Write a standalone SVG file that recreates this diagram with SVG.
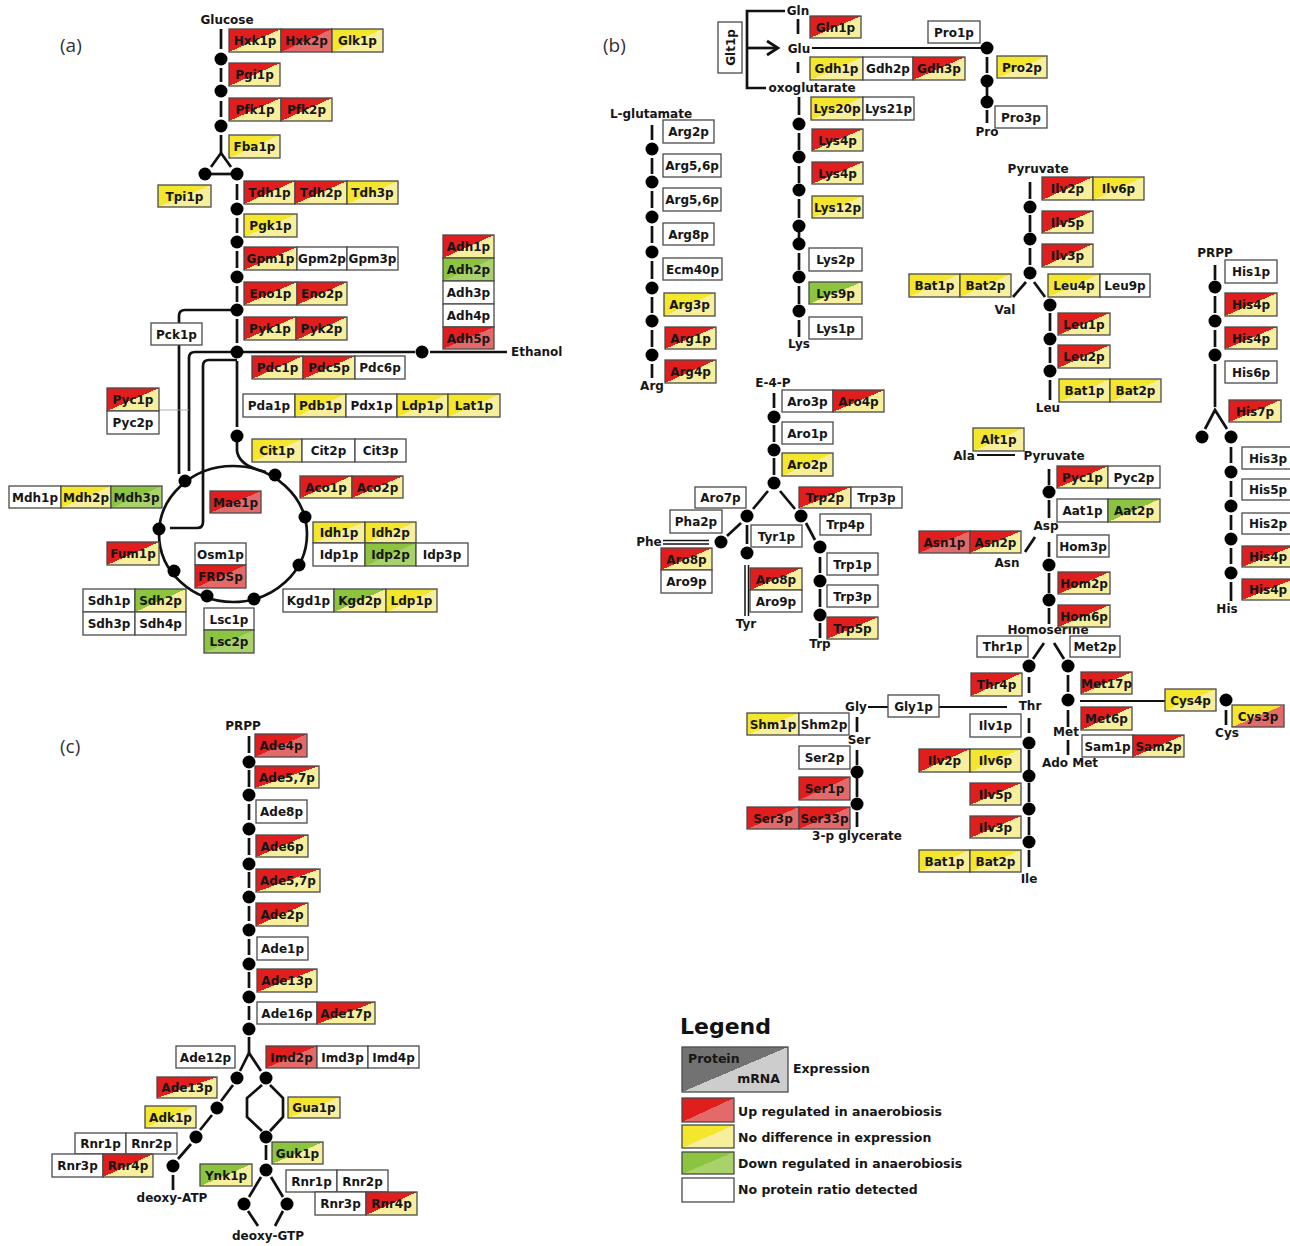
<svg xmlns="http://www.w3.org/2000/svg" width="1290" height="1246" viewBox="0 0 1290 1246">
<style>
.n rect{stroke:#4a4a4a;stroke-width:1.3}
.n text,.t{font-family:"DejaVu Sans",Verdana,sans-serif;font-weight:bold;font-size:12px;fill:#161616;text-anchor:middle}
.c line,.c path,.c polyline,.c ellipse{stroke:#111;stroke-width:2.7;fill:none}
.d circle{fill:#000}
.pl{font-family:"Open Sans","DejaVu Sans",sans-serif;font-size:19px;fill:#333}
.lg{font-family:"DejaVu Sans",Verdana,sans-serif;font-weight:bold;font-size:12.5px;fill:#161616}
</style>
<defs>
<linearGradient id="Ry" x1="0" y1="0" x2="1" y2="1"><stop offset="0.5" stop-color="#e01e1e"/><stop offset="0.5" stop-color="#f7ef9c"/></linearGradient>
<linearGradient id="Rr" x1="0" y1="0" x2="1" y2="1"><stop offset="0.5" stop-color="#e01e1e"/><stop offset="0.5" stop-color="#e46a6a"/></linearGradient>
<linearGradient id="Yy" x1="0" y1="0" x2="1" y2="1"><stop offset="0.5" stop-color="#f3e62c"/><stop offset="0.5" stop-color="#f7ef9c"/></linearGradient>
<linearGradient id="Yr" x1="0" y1="0" x2="1" y2="1"><stop offset="0.5" stop-color="#f3e62c"/><stop offset="0.5" stop-color="#e46a6a"/></linearGradient>
<linearGradient id="Gg" x1="0" y1="0" x2="1" y2="1"><stop offset="0.5" stop-color="#8cc43f"/><stop offset="0.5" stop-color="#a9d36a"/></linearGradient>
<linearGradient id="Gy" x1="0" y1="0" x2="1" y2="1"><stop offset="0.5" stop-color="#8cc43f"/><stop offset="0.5" stop-color="#f7ef9c"/></linearGradient>
<linearGradient id="Gr" x1="0" y1="0" x2="1" y2="1"><stop offset="0.5" stop-color="#727272"/><stop offset="0.5" stop-color="#cdcdcd"/></linearGradient>
</defs>
<rect width="1290" height="1246" fill="#fff"/>
<text class="pl" x="60" y="52">(a)</text>
<text class="pl" x="603" y="52">(b)</text>
<text class="pl" x="60" y="753">(c)</text>

<g id="connectors" class="c">
<!-- (a) glycolysis -->
<line x1="221" y1="29" x2="221" y2="49"/><line x1="221" y1="68" x2="221" y2="82"/><line x1="221" y1="101" x2="221" y2="117"/><line x1="221" y1="135" x2="221" y2="153"/>
<polyline points="211,167 221,153 231,167"/><line x1="211" y1="174" x2="231" y2="174"/>
<line x1="237" y1="184" x2="237" y2="200"/><line x1="237" y1="218" x2="237" y2="233"/><line x1="237" y1="251" x2="237" y2="268"/><line x1="237" y1="286" x2="237" y2="302"/><line x1="237" y1="319" x2="237" y2="343"/><line x1="237" y1="361" x2="237" y2="427"/>
<line x1="237" y1="352" x2="415" y2="352"/><line x1="430" y1="352" x2="507" y2="352"/>
<path d="M237,310 H185 Q179,310 179,316 V474"/>
<path d="M237,352 H195 Q189,352 189,358 V471"/>
<path d="M237,360 H209 Q203,360 203,366 V522 Q203,528 197,528 H170"/>
<line x1="159" y1="410" x2="189" y2="410" style="stroke:#999;stroke-width:0.8"/>
<path d="M237,436 V451 Q239,466 266,472"/>
<ellipse cx="233" cy="534" rx="74" ry="68"/>
<!-- (b) -->
<polyline points="785,11 747,11 747,88 766,88"/><line x1="747" y1="48" x2="777" y2="48"/><polyline points="767,41 778,48 767,55"/>
<line x1="798" y1="19" x2="798" y2="34"/><line x1="812" y1="48" x2="981" y2="48" style="stroke-width:2"/><line x1="798" y1="62" x2="798" y2="73"/>
<line x1="987" y1="57" x2="987" y2="73"/><line x1="987" y1="81" x2="987" y2="102"/><line x1="987" y1="110" x2="987" y2="123"/>
<line x1="799" y1="97" x2="799" y2="115"/><line x1="799" y1="133" x2="799" y2="150"/><line x1="799" y1="166" x2="799" y2="183"/><line x1="799" y1="199" x2="799" y2="218"/><line x1="799" y1="226" x2="799" y2="244"/><line x1="799" y1="253" x2="799" y2="270"/><line x1="799" y1="286" x2="799" y2="304"/><line x1="799" y1="320" x2="799" y2="337"/>
<line x1="652" y1="125" x2="652" y2="140"/><line x1="652" y1="158" x2="652" y2="174"/><line x1="652" y1="191" x2="652" y2="208"/><line x1="652" y1="226" x2="652" y2="243"/><line x1="652" y1="261" x2="652" y2="279"/><line x1="652" y1="297" x2="652" y2="313"/><line x1="652" y1="330" x2="652" y2="347"/><line x1="652" y1="364" x2="652" y2="378"/>
<line x1="1030" y1="182" x2="1030" y2="199"/><line x1="1030" y1="215" x2="1030" y2="232"/><line x1="1030" y1="248" x2="1030" y2="265"/><line x1="1026" y1="282" x2="1013" y2="297"/><line x1="1034" y1="282" x2="1045" y2="297"/>
<line x1="1050" y1="313" x2="1050" y2="331"/><line x1="1050" y1="347" x2="1050" y2="363"/><line x1="1050" y1="380" x2="1050" y2="400"/>
<line x1="1215" y1="265" x2="1215" y2="280"/><line x1="1215" y1="296" x2="1215" y2="313"/><line x1="1215" y1="330" x2="1215" y2="347"/><line x1="1215" y1="364" x2="1215" y2="407"/><polyline points="1205,429 1215,410 1227,429"/>
<line x1="1231" y1="447" x2="1231" y2="463"/><line x1="1231" y1="481" x2="1231" y2="497"/><line x1="1231" y1="515" x2="1231" y2="530"/><line x1="1231" y1="548" x2="1231" y2="564"/><line x1="1231" y1="582" x2="1231" y2="601"/>
<line x1="774" y1="393" x2="774" y2="408"/><line x1="774" y1="425" x2="774" y2="442"/><line x1="774" y1="458" x2="774" y2="475"/><line x1="768" y1="491" x2="753" y2="509"/><line x1="780" y1="491" x2="795" y2="509"/>
<line x1="741" y1="523" x2="727" y2="536"/><line x1="663" y1="540.5" x2="709" y2="540.5" style="stroke-width:1.5"/><line x1="663" y1="544" x2="709" y2="544" style="stroke-width:1.5"/>
<line x1="747" y1="525" x2="747" y2="544"/><line x1="745" y1="565" x2="745" y2="616" style="stroke-width:1.5"/><line x1="748.5" y1="565" x2="748.5" y2="616" style="stroke-width:1.5"/>
<line x1="806" y1="523" x2="815" y2="540"/><line x1="820" y1="557" x2="820" y2="573"/><line x1="820" y1="589" x2="820" y2="607"/><line x1="820" y1="623" x2="820" y2="638"/>
<line x1="977" y1="455" x2="1015" y2="455" style="stroke-width:2"/>
<line x1="1049" y1="469" x2="1049" y2="485"/><line x1="1049" y1="500" x2="1049" y2="518"/><line x1="1049" y1="542" x2="1049" y2="557"/><line x1="1049" y1="573" x2="1049" y2="593"/><line x1="1049" y1="608" x2="1049" y2="624"/>
<line x1="1035" y1="537" x2="1025" y2="552"/>
<line x1="1044" y1="643" x2="1033" y2="659"/><line x1="1054" y1="643" x2="1064" y2="659"/>
<line x1="1029" y1="677" x2="1029" y2="693"/><line x1="1029" y1="718" x2="1029" y2="733"/><line x1="1029" y1="750" x2="1029" y2="770"/><line x1="1029" y1="783" x2="1029" y2="802"/><line x1="1029" y1="817" x2="1029" y2="835"/><line x1="1029" y1="850" x2="1029" y2="867"/>
<line x1="868" y1="707" x2="888" y2="707" style="stroke-width:2"/><line x1="939" y1="707" x2="1007" y2="707" style="stroke-width:2"/>
<line x1="857" y1="717" x2="857" y2="732"/><line x1="857" y1="750" x2="857" y2="765"/><line x1="857" y1="778" x2="857" y2="797"/><line x1="857" y1="812" x2="857" y2="827"/>
<line x1="1068" y1="675" x2="1068" y2="692"/><line x1="1080" y1="701" x2="1165" y2="701" style="stroke-width:2"/><line x1="1068" y1="710" x2="1068" y2="727"/><line x1="1068" y1="740" x2="1068" y2="755"/>
<line x1="1226" y1="710" x2="1226" y2="725"/>
<!-- (c) -->
<line x1="249" y1="736" x2="249" y2="753"/><line x1="249" y1="770" x2="249" y2="787"/><line x1="249" y1="804" x2="249" y2="820"/><line x1="249" y1="838" x2="249" y2="855"/><line x1="249" y1="872" x2="249" y2="888"/><line x1="249" y1="906" x2="249" y2="921"/><line x1="249" y1="939" x2="249" y2="955"/><line x1="249" y1="972" x2="249" y2="988"/><line x1="249" y1="1006" x2="249" y2="1020"/>
<line x1="249" y1="1037" x2="249" y2="1053"/><polyline points="240,1071 249,1053 261,1071"/>
<line x1="233" y1="1085" x2="221" y2="1101"/><line x1="212" y1="1115" x2="200" y2="1130"/><line x1="191" y1="1144" x2="178" y2="1159"/><line x1="173" y1="1175" x2="173" y2="1190"/>
<polyline points="262,1085 247,1098 247,1117 262,1131"/><polyline points="270,1085 283,1098 283,1117 270,1131"/>
<line x1="266" y1="1145" x2="266" y2="1160"/><line x1="261" y1="1177" x2="249" y2="1197"/><line x1="271" y1="1177" x2="283" y2="1197"/>
<line x1="248" y1="1211" x2="258" y2="1226"/><line x1="283" y1="1211" x2="275" y2="1226"/>
</g>

<g id="dots" class="d">
<circle cx="221" cy="59" r="6.5"/><circle cx="221" cy="91" r="6.5"/><circle cx="221" cy="126" r="6.5"/><circle cx="205" cy="174" r="6.5"/><circle cx="237" cy="174" r="6.5"/>
<circle cx="237" cy="209" r="6.5"/><circle cx="237" cy="242" r="6.5"/><circle cx="237" cy="277" r="6.5"/><circle cx="237" cy="310" r="6.5"/><circle cx="237" cy="352" r="6.5"/><circle cx="237" cy="436" r="6.5"/><circle cx="422" cy="352" r="6.5"/>
<circle cx="185" cy="481" r="6.5"/><circle cx="275" cy="475" r="6.5"/><circle cx="305" cy="517" r="6.5"/><circle cx="159" cy="529" r="6.5"/><circle cx="299" cy="565" r="6.5"/><circle cx="174" cy="571" r="6.5"/><circle cx="207" cy="596" r="6.5"/><circle cx="254" cy="599" r="6.5"/>
<circle cx="987" cy="48" r="6.5"/><circle cx="987" cy="81" r="6.5"/><circle cx="987" cy="102" r="6.5"/>
<circle cx="799" cy="124" r="6.5"/><circle cx="799" cy="157" r="6.5"/><circle cx="799" cy="190" r="6.5"/><circle cx="799" cy="226" r="6.5"/><circle cx="799" cy="244" r="6.5"/><circle cx="799" cy="277" r="6.5"/><circle cx="799" cy="311" r="6.5"/>
<circle cx="652" cy="149" r="6.5"/><circle cx="652" cy="182" r="6.5"/><circle cx="652" cy="217" r="6.5"/><circle cx="652" cy="252" r="6.5"/><circle cx="652" cy="288" r="6.5"/><circle cx="652" cy="321" r="6.5"/><circle cx="652" cy="355" r="6.5"/>
<circle cx="1030" cy="207" r="6.5"/><circle cx="1030" cy="239" r="6.5"/><circle cx="1030" cy="273" r="6.5"/><circle cx="1050" cy="305" r="6.5"/><circle cx="1050" cy="339" r="6.5"/><circle cx="1050" cy="371" r="6.5"/>
<circle cx="1215" cy="287" r="6.5"/><circle cx="1215" cy="321" r="6.5"/><circle cx="1215" cy="355" r="6.5"/><circle cx="1202" cy="437" r="6.5"/><circle cx="1231" cy="437" r="6.5"/><circle cx="1231" cy="472" r="6.5"/><circle cx="1231" cy="506" r="6.5"/><circle cx="1231" cy="539" r="6.5"/><circle cx="1231" cy="573" r="6.5"/>
<circle cx="774" cy="417" r="6.5"/><circle cx="774" cy="450" r="6.5"/><circle cx="774" cy="483" r="6.5"/><circle cx="747" cy="516" r="6.5"/><circle cx="801" cy="516" r="6.5"/><circle cx="721" cy="542" r="6.5"/><circle cx="747" cy="553" r="6.5"/><circle cx="820" cy="547" r="6.5"/><circle cx="820" cy="581" r="6.5"/><circle cx="820" cy="615" r="6.5"/>
<circle cx="1049" cy="492" r="6.5"/><circle cx="1049" cy="565" r="6.5"/><circle cx="1049" cy="600" r="6.5"/>
<circle cx="1029" cy="666" r="6.5"/><circle cx="1068" cy="666" r="6.5"/><circle cx="1068" cy="700" r="6.5"/><circle cx="1226" cy="700" r="6.5"/>
<circle cx="1029" cy="743" r="6.5"/><circle cx="1029" cy="776" r="6.5"/><circle cx="1029" cy="809" r="6.5"/><circle cx="1029" cy="842" r="6.5"/>
<circle cx="857" cy="772" r="6.5"/><circle cx="857" cy="804" r="6.5"/>
<circle cx="249" cy="762" r="6.5"/><circle cx="249" cy="795" r="6.5"/><circle cx="249" cy="829" r="6.5"/><circle cx="249" cy="864" r="6.5"/><circle cx="249" cy="897" r="6.5"/><circle cx="249" cy="930" r="6.5"/><circle cx="249" cy="964" r="6.5"/><circle cx="249" cy="997" r="6.5"/><circle cx="249" cy="1029" r="6.5"/>
<circle cx="237" cy="1078" r="6.5"/><circle cx="217" cy="1108" r="6.5"/><circle cx="196" cy="1137" r="6.5"/><circle cx="173" cy="1166" r="6.5"/>
<circle cx="266" cy="1078" r="6.5"/><circle cx="266" cy="1137" r="6.5"/><circle cx="266" cy="1170" r="6.5"/><circle cx="244" cy="1204" r="6.5"/><circle cx="287" cy="1204" r="6.5"/>
</g>

<g id="metabolites">
<text class="t" x="227" y="24">Glucose</text>
<text class="t" x="511" y="356" style="text-anchor:start">Ethanol</text>
<text class="t" x="798" y="15">Gln</text>
<text class="t" x="799" y="53">Glu</text>
<text class="t" x="812" y="92">oxoglutarate</text>
<text class="t" x="987" y="136">Pro</text>
<text class="t" x="651" y="118">L-glutamate</text>
<text class="t" x="652" y="390">Arg</text>
<text class="t" x="799" y="348">Lys</text>
<text class="t" x="1038" y="173">Pyruvate</text>
<text class="t" x="1005" y="314">Val</text>
<text class="t" x="1048" y="412">Leu</text>
<text class="t" x="1215" y="257">PRPP</text>
<text class="t" x="1227" y="613">His</text>
<text class="t" x="773" y="387">E-4-P</text>
<text class="t" x="649" y="546">Phe</text>
<text class="t" x="746" y="628">Tyr</text>
<text class="t" x="820" y="648">Trp</text>
<text class="t" x="964" y="460">Ala</text>
<text class="t" x="1054" y="460">Pyruvate</text>
<text class="t" x="1046" y="530">Asp</text>
<text class="t" x="1007" y="567">Asn</text>
<text class="t" x="1048" y="634">Homoserine</text>
<text class="t" x="1030" y="710">Thr</text>
<text class="t" x="1029" y="883">Ile</text>
<text class="t" x="856" y="711">Gly</text>
<text class="t" x="859" y="744">Ser</text>
<text class="t" x="857" y="840">3-p glycerate</text>
<text class="t" x="1066" y="736">Met</text>
<text class="t" x="1070" y="767">Ado Met</text>
<text class="t" x="1227" y="737">Cys</text>
<text class="t" x="243" y="730">PRPP</text>
<text class="t" x="172" y="1202">deoxy-ATP</text>
<text class="t" x="268" y="1240">deoxy-GTP</text>
</g>

<g id="nodes-a">
<g id="a_Hxk1p" class="n"><rect x="229" y="29" width="52" height="23" fill="url(#Ry)"/><text x="255" y="45">Hxk1p</text></g>
<g id="a_Hxk2p" class="n"><rect x="281" y="29" width="51" height="23" fill="url(#Rr)"/><text x="306.5" y="45">Hxk2p</text></g>
<g id="a_Glk1p" class="n"><rect x="332" y="29" width="51" height="23" fill="url(#Yy)"/><text x="357.5" y="45">Glk1p</text></g>
<g id="a_Pgi1p" class="n"><rect x="229" y="63" width="51" height="23" fill="url(#Ry)"/><text x="254.5" y="79">Pgi1p</text></g>
<g id="a_Pfk1p" class="n"><rect x="229" y="98" width="52" height="23" fill="url(#Ry)"/><text x="255" y="114">Pfk1p</text></g>
<g id="a_Pfk2p" class="n"><rect x="281" y="98" width="51" height="23" fill="url(#Ry)"/><text x="306.5" y="114">Pfk2p</text></g>
<g id="a_Fba1p" class="n"><rect x="229" y="135" width="51" height="23" fill="url(#Yy)"/><text x="254.5" y="151">Fba1p</text></g>
<g id="a_Tpi1p" class="n"><rect x="158" y="185" width="53" height="22" fill="url(#Yy)"/><text x="184.5" y="200.5">Tpi1p</text></g>
<g id="a_Tdh1p" class="n"><rect x="244" y="181" width="51" height="23" fill="url(#Ry)"/><text x="269.5" y="197">Tdh1p</text></g>
<g id="a_Tdh2p" class="n"><rect x="295" y="181" width="52" height="23" fill="url(#Ry)"/><text x="321" y="197">Tdh2p</text></g>
<g id="a_Tdh3p" class="n"><rect x="347" y="181" width="51" height="23" fill="url(#Yy)"/><text x="372.5" y="197">Tdh3p</text></g>
<g id="a_Pgk1p" class="n"><rect x="244" y="214" width="53" height="23" fill="url(#Yy)"/><text x="270.5" y="230">Pgk1p</text></g>
<g id="a_Gpm1p" class="n"><rect x="244" y="247" width="53" height="23" fill="url(#Ry)"/><text x="270.5" y="263">Gpm1p</text></g>
<g id="a_Gpm2p" class="n"><rect x="297" y="247" width="50" height="23" fill="#fff"/><text x="322" y="263">Gpm2p</text></g>
<g id="a_Gpm3p" class="n"><rect x="347" y="247" width="51" height="23" fill="#fff"/><text x="372.5" y="263">Gpm3p</text></g>
<g id="a_Eno1p" class="n"><rect x="244" y="282" width="53" height="23" fill="url(#Ry)"/><text x="270.5" y="298">Eno1p</text></g>
<g id="a_Eno2p" class="n"><rect x="297" y="282" width="50" height="23" fill="url(#Ry)"/><text x="322" y="298">Eno2p</text></g>
<g id="a_Pyk1p" class="n"><rect x="244" y="317" width="52" height="23" fill="url(#Ry)"/><text x="270" y="333">Pyk1p</text></g>
<g id="a_Pyk2p" class="n"><rect x="296" y="317" width="51" height="23" fill="url(#Ry)"/><text x="321.5" y="333">Pyk2p</text></g>
<g id="a_Adh1p" class="n"><rect x="443" y="235" width="51" height="23" fill="url(#Ry)"/><text x="468.5" y="251">Adh1p</text></g>
<g id="a_Adh2p" class="n"><rect x="443" y="258" width="51" height="23" fill="url(#Gg)"/><text x="468.5" y="274">Adh2p</text></g>
<g id="a_Adh3p" class="n"><rect x="443" y="281" width="51" height="23" fill="#fff"/><text x="468.5" y="297">Adh3p</text></g>
<g id="a_Adh4p" class="n"><rect x="443" y="304" width="51" height="23" fill="#fff"/><text x="468.5" y="320">Adh4p</text></g>
<g id="a_Adh5p" class="n"><rect x="443" y="327" width="51" height="22" fill="url(#Rr)"/><text x="468.5" y="342.5">Adh5p</text></g>
<g id="a_Pck1p" class="n"><rect x="151" y="323" width="51" height="22" fill="#fff"/><text x="176.5" y="338.5">Pck1p</text></g>
<g id="a_Pdc1p" class="n"><rect x="252" y="356" width="51" height="23" fill="url(#Ry)"/><text x="277.5" y="372">Pdc1p</text></g>
<g id="a_Pdc5p" class="n"><rect x="303" y="356" width="52" height="23" fill="url(#Ry)"/><text x="329" y="372">Pdc5p</text></g>
<g id="a_Pdc6p" class="n"><rect x="355" y="356" width="50" height="23" fill="#fff"/><text x="380" y="372">Pdc6p</text></g>
<g id="a_Pda1p" class="n"><rect x="243" y="394" width="52" height="23" fill="#fff"/><text x="269" y="410">Pda1p</text></g>
<g id="a_Pdb1p" class="n"><rect x="295" y="394" width="51" height="23" fill="url(#Yy)"/><text x="320.5" y="410">Pdb1p</text></g>
<g id="a_Pdx1p" class="n"><rect x="346" y="394" width="51" height="23" fill="#fff"/><text x="371.5" y="410">Pdx1p</text></g>
<g id="a_Ldp1p" class="n"><rect x="397" y="394" width="51" height="23" fill="url(#Yy)"/><text x="422.5" y="410">Ldp1p</text></g>
<g id="a_Lat1p" class="n"><rect x="448" y="394" width="52" height="23" fill="url(#Yy)"/><text x="474" y="410">Lat1p</text></g>
<g id="a_Pyc1p" class="n"><rect x="107" y="388" width="52" height="23" fill="url(#Ry)"/><text x="133" y="404">Pyc1p</text></g>
<g id="a_Pyc2p" class="n"><rect x="107" y="411" width="52" height="23" fill="#fff"/><text x="133" y="427">Pyc2p</text></g>
<g id="a_Cit1p" class="n"><rect x="252" y="439" width="50" height="23" fill="url(#Yy)"/><text x="277" y="455">Cit1p</text></g>
<g id="a_Cit2p" class="n"><rect x="302" y="439" width="53" height="23" fill="#fff"/><text x="328.5" y="455">Cit2p</text></g>
<g id="a_Cit3p" class="n"><rect x="355" y="439" width="51" height="23" fill="#fff"/><text x="380.5" y="455">Cit3p</text></g>
<g id="a_Mdh1p" class="n"><rect x="9" y="486" width="52" height="22" fill="#fff"/><text x="35" y="501.5">Mdh1p</text></g>
<g id="a_Mdh2p" class="n"><rect x="61" y="486" width="50" height="22" fill="url(#Yy)"/><text x="86" y="501.5">Mdh2p</text></g>
<g id="a_Mdh3p" class="n"><rect x="111" y="486" width="51" height="22" fill="url(#Gg)"/><text x="136.5" y="501.5">Mdh3p</text></g>
<g id="a_Mae1p" class="n"><rect x="210" y="491" width="51" height="22" fill="url(#Rr)"/><text x="235.5" y="506.5">Mae1p</text></g>
<g id="a_Aco1p" class="n"><rect x="300" y="476" width="52" height="22" fill="url(#Ry)"/><text x="326" y="491.5">Aco1p</text></g>
<g id="a_Aco2p" class="n"><rect x="352" y="476" width="51" height="22" fill="url(#Ry)"/><text x="377.5" y="491.5">Aco2p</text></g>
<g id="a_Idh1p" class="n"><rect x="313" y="522" width="52" height="21" fill="url(#Yy)"/><text x="339" y="536.5">Idh1p</text></g>
<g id="a_Idh2p" class="n"><rect x="365" y="522" width="51" height="21" fill="url(#Yy)"/><text x="390.5" y="536.5">Idh2p</text></g>
<g id="a_Idp1p" class="n"><rect x="313" y="543" width="52" height="23" fill="#fff"/><text x="339" y="559">Idp1p</text></g>
<g id="a_Idp2p" class="n"><rect x="365" y="543" width="51" height="23" fill="url(#Gg)"/><text x="390.5" y="559">Idp2p</text></g>
<g id="a_Idp3p" class="n"><rect x="416" y="543" width="52" height="23" fill="#fff"/><text x="442" y="559">Idp3p</text></g>
<g id="a_Fum1p" class="n"><rect x="107" y="542" width="52" height="23" fill="url(#Ry)"/><text x="133" y="558">Fum1p</text></g>
<g id="a_Osm1p" class="n"><rect x="195" y="543" width="51" height="22" fill="#fff"/><text x="220.5" y="558.5">Osm1p</text></g>
<g id="a_FRDSp" class="n"><rect x="195" y="565" width="51" height="23" fill="url(#Rr)"/><text x="220.5" y="581">FRDSp</text></g>
<g id="a_Sdh1p" class="n"><rect x="83" y="589" width="52" height="23" fill="#fff"/><text x="109" y="605">Sdh1p</text></g>
<g id="a_Sdh2p" class="n"><rect x="135" y="589" width="51" height="23" fill="url(#Gy)"/><text x="160.5" y="605">Sdh2p</text></g>
<g id="a_Sdh3p" class="n"><rect x="83" y="612" width="52" height="23" fill="#fff"/><text x="109" y="628">Sdh3p</text></g>
<g id="a_Sdh4p" class="n"><rect x="135" y="612" width="51" height="23" fill="#fff"/><text x="160.5" y="628">Sdh4p</text></g>
<g id="a_Lsc1p" class="n"><rect x="204" y="608" width="50" height="22" fill="#fff"/><text x="229" y="623.5">Lsc1p</text></g>
<g id="a_Lsc2p" class="n"><rect x="204" y="630" width="50" height="23" fill="url(#Gg)"/><text x="229" y="646">Lsc2p</text></g>
<g id="a_Kgd1p" class="n"><rect x="283" y="589" width="51" height="23" fill="#fff"/><text x="308.5" y="605">Kgd1p</text></g>
<g id="a_Kgd2p" class="n"><rect x="334" y="589" width="52" height="23" fill="url(#Gy)"/><text x="360" y="605">Kgd2p</text></g>
<g id="a_Ldp1p_2" class="n"><rect x="386" y="589" width="51" height="23" fill="url(#Yy)"/><text x="411.5" y="605">Ldp1p</text></g>
</g>

<g id="nodes-b">
<g id="b_Glt1p" class="n"><rect x="718" y="22" width="24" height="51" fill="#fff"/><text transform="translate(730,47.5) rotate(-90)" x="0" y="4.5">Glt1p</text></g>
<g id="b_Gln1p" class="n"><rect x="810" y="16" width="51" height="22" fill="url(#Ry)"/><text x="835.5" y="31.5">Gln1p</text></g>
<g id="b_Gdh1p" class="n"><rect x="810" y="57" width="53" height="23" fill="url(#Yy)"/><text x="836.5" y="73">Gdh1p</text></g>
<g id="b_Gdh2p" class="n"><rect x="863" y="57" width="50" height="23" fill="#fff"/><text x="888" y="73">Gdh2p</text></g>
<g id="b_Gdh3p" class="n"><rect x="913" y="57" width="52" height="23" fill="url(#Ry)"/><text x="939" y="73">Gdh3p</text></g>
<g id="b_Pro1p" class="n"><rect x="928" y="21" width="52" height="22" fill="#fff"/><text x="954" y="36.5">Pro1p</text></g>
<g id="b_Pro2p" class="n"><rect x="997" y="56" width="50" height="22" fill="url(#Yy)"/><text x="1022" y="71.5">Pro2p</text></g>
<g id="b_Pro3p" class="n"><rect x="995" y="106" width="52" height="22" fill="#fff"/><text x="1021" y="121.5">Pro3p</text></g>
<g id="b_Lys20p" class="n"><rect x="811" y="97" width="52" height="23" fill="url(#Yy)"/><text x="837" y="113">Lys20p</text></g>
<g id="b_Lys21p" class="n"><rect x="863" y="97" width="51" height="23" fill="#fff"/><text x="888.5" y="113">Lys21p</text></g>
<g id="b_Lys4p_1" class="n"><rect x="812" y="129" width="51" height="22" fill="url(#Ry)"/><text x="837.5" y="144.5">Lys4p</text></g>
<g id="b_Lys4p_2" class="n"><rect x="812" y="162" width="51" height="22" fill="url(#Ry)"/><text x="837.5" y="177.5">Lys4p</text></g>
<g id="b_Lys12p" class="n"><rect x="812" y="196" width="51" height="22" fill="url(#Yy)"/><text x="837.5" y="211.5">Lys12p</text></g>
<g id="b_Lys2p" class="n"><rect x="809" y="248" width="53" height="23" fill="#fff"/><text x="835.5" y="264">Lys2p</text></g>
<g id="b_Lys9p" class="n"><rect x="809" y="282" width="53" height="22" fill="url(#Gy)"/><text x="835.5" y="297.5">Lys9p</text></g>
<g id="b_Lys1p" class="n"><rect x="809" y="317" width="53" height="22" fill="#fff"/><text x="835.5" y="332.5">Lys1p</text></g>
<g id="b_Arg2p" class="n"><rect x="663" y="120" width="51" height="23" fill="#fff"/><text x="688.5" y="136">Arg2p</text></g>
<g id="b_Arg56p_1" class="n"><rect x="663" y="154" width="58" height="23" fill="#fff"/><text x="692" y="170">Arg5,6p</text></g>
<g id="b_Arg56p_2" class="n"><rect x="663" y="188" width="58" height="23" fill="#fff"/><text x="692" y="204">Arg5,6p</text></g>
<g id="b_Arg8p" class="n"><rect x="663" y="223" width="51" height="22" fill="#fff"/><text x="688.5" y="238.5">Arg8p</text></g>
<g id="b_Ecm40p" class="n"><rect x="663" y="258" width="59" height="22" fill="#fff"/><text x="692.5" y="273.5">Ecm40p</text></g>
<g id="b_Arg3p" class="n"><rect x="664" y="293" width="51" height="23" fill="url(#Yy)"/><text x="689.5" y="309">Arg3p</text></g>
<g id="b_Arg1p" class="n"><rect x="665" y="327" width="51" height="22" fill="url(#Ry)"/><text x="690.5" y="342.5">Arg1p</text></g>
<g id="b_Arg4p" class="n"><rect x="665" y="360" width="51" height="23" fill="url(#Ry)"/><text x="690.5" y="376">Arg4p</text></g>
<g id="b_Ilv2p_1" class="n"><rect x="1042" y="177" width="51" height="23" fill="url(#Ry)"/><text x="1067.5" y="193">Ilv2p</text></g>
<g id="b_Ilv6p_1" class="n"><rect x="1093" y="177" width="51" height="23" fill="url(#Yy)"/><text x="1118.5" y="193">Ilv6p</text></g>
<g id="b_Ilv5p_1" class="n"><rect x="1042" y="211" width="51" height="22" fill="url(#Ry)"/><text x="1067.5" y="226.5">Ilv5p</text></g>
<g id="b_Ilv3p_1" class="n"><rect x="1042" y="244" width="51" height="23" fill="url(#Ry)"/><text x="1067.5" y="260">Ilv3p</text></g>
<g id="b_Bat1p_v" class="n"><rect x="909" y="274" width="51" height="23" fill="url(#Yy)"/><text x="934.5" y="290">Bat1p</text></g>
<g id="b_Bat2p_v" class="n"><rect x="960" y="274" width="51" height="23" fill="url(#Yy)"/><text x="985.5" y="290">Bat2p</text></g>
<g id="b_Leu4p" class="n"><rect x="1048" y="274" width="52" height="23" fill="url(#Yy)"/><text x="1074" y="290">Leu4p</text></g>
<g id="b_Leu9p" class="n"><rect x="1100" y="274" width="50" height="23" fill="#fff"/><text x="1125" y="290">Leu9p</text></g>
<g id="b_Leu1p" class="n"><rect x="1058" y="313" width="52" height="22" fill="url(#Ry)"/><text x="1084" y="328.5">Leu1p</text></g>
<g id="b_Leu2p" class="n"><rect x="1058" y="345" width="52" height="23" fill="url(#Ry)"/><text x="1084" y="361">Leu2p</text></g>
<g id="b_Bat1p_l" class="n"><rect x="1059" y="379" width="51" height="23" fill="url(#Yy)"/><text x="1084.5" y="395">Bat1p</text></g>
<g id="b_Bat2p_l" class="n"><rect x="1110" y="379" width="51" height="23" fill="url(#Yy)"/><text x="1135.5" y="395">Bat2p</text></g>
<g id="b_His1p" class="n"><rect x="1225" y="260" width="52" height="23" fill="#fff"/><text x="1251" y="276">His1p</text></g>
<g id="b_His4p_1" class="n"><rect x="1225" y="293" width="52" height="23" fill="url(#Ry)"/><text x="1251" y="309">His4p</text></g>
<g id="b_His4p_2" class="n"><rect x="1225" y="327" width="52" height="22" fill="url(#Ry)"/><text x="1251" y="342.5">His4p</text></g>
<g id="b_His6p" class="n"><rect x="1225" y="361" width="52" height="22" fill="#fff"/><text x="1251" y="376.5">His6p</text></g>
<g id="b_His7p" class="n"><rect x="1229" y="400" width="52" height="22" fill="url(#Ry)"/><text x="1255" y="415.5">His7p</text></g>
<g id="b_His3p" class="n"><rect x="1242" y="447" width="52" height="22" fill="#fff"/><text x="1268" y="462.5">His3p</text></g>
<g id="b_His5p" class="n"><rect x="1242" y="479" width="52" height="21" fill="#fff"/><text x="1268" y="494">His5p</text></g>
<g id="b_His2p" class="n"><rect x="1242" y="513" width="52" height="21" fill="#fff"/><text x="1268" y="528">His2p</text></g>
<g id="b_His4p_3" class="n"><rect x="1242" y="546" width="52" height="21" fill="url(#Ry)"/><text x="1268" y="561">His4p</text></g>
<g id="b_His4p_4" class="n"><rect x="1242" y="579" width="52" height="21" fill="url(#Ry)"/><text x="1268" y="594">His4p</text></g>
<g id="b_Aro3p" class="n"><rect x="782" y="390" width="51" height="22" fill="#fff"/><text x="807.5" y="405.5">Aro3p</text></g>
<g id="b_Aro4p" class="n"><rect x="833" y="390" width="51" height="22" fill="url(#Ry)"/><text x="858.5" y="405.5">Aro4p</text></g>
<g id="b_Aro1p" class="n"><rect x="782" y="422" width="51" height="22" fill="#fff"/><text x="807.5" y="437.5">Aro1p</text></g>
<g id="b_Aro2p" class="n"><rect x="782" y="453" width="51" height="23" fill="url(#Yy)"/><text x="807.5" y="469">Aro2p</text></g>
<g id="b_Aro7p" class="n"><rect x="695" y="487" width="51" height="21" fill="#fff"/><text x="720.5" y="502">Aro7p</text></g>
<g id="b_Trp2p" class="n"><rect x="799" y="487" width="52" height="21" fill="url(#Ry)"/><text x="825" y="502">Trp2p</text></g>
<g id="b_Trp3p_1" class="n"><rect x="851" y="487" width="51" height="21" fill="#fff"/><text x="876.5" y="502">Trp3p</text></g>
<g id="b_Pha2p" class="n"><rect x="670" y="510" width="52" height="23" fill="#fff"/><text x="696" y="526">Pha2p</text></g>
<g id="b_Trp4p" class="n"><rect x="820" y="514" width="51" height="21" fill="#fff"/><text x="845.5" y="529">Trp4p</text></g>
<g id="b_Tyr1p" class="n"><rect x="751" y="525" width="51" height="22" fill="#fff"/><text x="776.5" y="540.5">Tyr1p</text></g>
<g id="b_Aro8p_1" class="n"><rect x="661" y="548" width="51" height="22" fill="url(#Ry)"/><text x="686.5" y="563.5">Aro8p</text></g>
<g id="b_Aro9p_1" class="n"><rect x="661" y="570" width="51" height="23" fill="#fff"/><text x="686.5" y="586">Aro9p</text></g>
<g id="b_Aro8p_2" class="n"><rect x="750" y="568" width="52" height="22" fill="url(#Ry)"/><text x="776" y="583.5">Aro8p</text></g>
<g id="b_Aro9p_2" class="n"><rect x="750" y="590" width="52" height="22" fill="#fff"/><text x="776" y="605.5">Aro9p</text></g>
<g id="b_Trp1p" class="n"><rect x="827" y="553" width="51" height="22" fill="#fff"/><text x="852.5" y="568.5">Trp1p</text></g>
<g id="b_Trp3p_2" class="n"><rect x="827" y="585" width="51" height="22" fill="#fff"/><text x="852.5" y="600.5">Trp3p</text></g>
<g id="b_Trp5p" class="n"><rect x="827" y="617" width="51" height="22" fill="url(#Ry)"/><text x="852.5" y="632.5">Trp5p</text></g>
<g id="b_Alt1p" class="n"><rect x="973" y="428" width="51" height="23" fill="url(#Yy)"/><text x="998.5" y="444">Alt1p</text></g>
<g id="b_Pyc1p" class="n"><rect x="1057" y="466" width="51" height="22" fill="url(#Ry)"/><text x="1082.5" y="481.5">Pyc1p</text></g>
<g id="b_Pyc2p" class="n"><rect x="1108" y="466" width="52" height="22" fill="#fff"/><text x="1134" y="481.5">Pyc2p</text></g>
<g id="b_Aat1p" class="n"><rect x="1057" y="499" width="51" height="23" fill="#fff"/><text x="1082.5" y="515">Aat1p</text></g>
<g id="b_Aat2p" class="n"><rect x="1108" y="499" width="52" height="23" fill="url(#Gy)"/><text x="1134" y="515">Aat2p</text></g>
<g id="b_Asn1p" class="n"><rect x="919" y="531" width="51" height="22" fill="url(#Rr)"/><text x="944.5" y="546.5">Asn1p</text></g>
<g id="b_Asn2p" class="n"><rect x="970" y="531" width="51" height="22" fill="url(#Ry)"/><text x="995.5" y="546.5">Asn2p</text></g>
<g id="b_Hom3p" class="n"><rect x="1057" y="535" width="52" height="22" fill="#fff"/><text x="1083" y="550.5">Hom3p</text></g>
<g id="b_Hom2p" class="n"><rect x="1058" y="572" width="52" height="22" fill="url(#Ry)"/><text x="1084" y="587.5">Hom2p</text></g>
<g id="b_Hom6p" class="n"><rect x="1058" y="605" width="52" height="22" fill="url(#Ry)"/><text x="1084" y="620.5">Hom6p</text></g>
<g id="b_Thr1p" class="n"><rect x="977" y="636" width="51" height="21" fill="#fff"/><text x="1002.5" y="651">Thr1p</text></g>
<g id="b_Met2p" class="n"><rect x="1070" y="636" width="50" height="21" fill="#fff"/><text x="1095" y="651">Met2p</text></g>
<g id="b_Thr4p" class="n"><rect x="971" y="673" width="51" height="23" fill="url(#Ry)"/><text x="996.5" y="689">Thr4p</text></g>
<g id="b_Met17p" class="n"><rect x="1081" y="672" width="51" height="22" fill="url(#Ry)"/><text x="1106.5" y="687.5">Met17p</text></g>
<g id="b_Cys4p" class="n"><rect x="1165" y="689" width="51" height="22" fill="url(#Yy)"/><text x="1190.5" y="704.5">Cys4p</text></g>
<g id="b_Cys3p" class="n"><rect x="1232" y="705" width="52" height="22" fill="url(#Yr)"/><text x="1258" y="720.5">Cys3p</text></g>
<g id="b_Met6p" class="n"><rect x="1081" y="707" width="51" height="23" fill="url(#Ry)"/><text x="1106.5" y="723">Met6p</text></g>
<g id="b_Sam1p" class="n"><rect x="1082" y="735" width="51" height="22" fill="#fff"/><text x="1107.5" y="750.5">Sam1p</text></g>
<g id="b_Sam2p" class="n"><rect x="1133" y="735" width="51" height="22" fill="url(#Ry)"/><text x="1158.5" y="750.5">Sam2p</text></g>
<g id="b_Gly1p" class="n"><rect x="888" y="695" width="51" height="22" fill="#fff"/><text x="913.5" y="710.5">Gly1p</text></g>
<g id="b_Shm1p" class="n"><rect x="747" y="713" width="52" height="22" fill="url(#Yy)"/><text x="773" y="728.5">Shm1p</text></g>
<g id="b_Shm2p" class="n"><rect x="799" y="713" width="50" height="22" fill="#fff"/><text x="824" y="728.5">Shm2p</text></g>
<g id="b_Ser2p" class="n"><rect x="799" y="746" width="51" height="23" fill="#fff"/><text x="824.5" y="762">Ser2p</text></g>
<g id="b_Ser1p" class="n"><rect x="799" y="777" width="51" height="23" fill="url(#Rr)"/><text x="824.5" y="793">Ser1p</text></g>
<g id="b_Ser3p" class="n"><rect x="747" y="807" width="52" height="22" fill="url(#Rr)"/><text x="773" y="822.5">Ser3p</text></g>
<g id="b_Ser33p" class="n"><rect x="799" y="807" width="51" height="22" fill="url(#Rr)"/><text x="824.5" y="822.5">Ser33p</text></g>
<g id="b_Ilv1p" class="n"><rect x="970" y="714" width="51" height="23" fill="#fff"/><text x="995.5" y="730">Ilv1p</text></g>
<g id="b_Ilv2p_2" class="n"><rect x="919" y="749" width="51" height="23" fill="url(#Ry)"/><text x="944.5" y="765">Ilv2p</text></g>
<g id="b_Ilv6p_2" class="n"><rect x="970" y="749" width="51" height="23" fill="url(#Yy)"/><text x="995.5" y="765">Ilv6p</text></g>
<g id="b_Ilv5p_2" class="n"><rect x="970" y="783" width="51" height="22" fill="url(#Ry)"/><text x="995.5" y="798.5">Ilv5p</text></g>
<g id="b_Ilv3p_2" class="n"><rect x="970" y="816" width="51" height="22" fill="url(#Ry)"/><text x="995.5" y="831.5">Ilv3p</text></g>
<g id="b_Bat1p_i" class="n"><rect x="919" y="850" width="51" height="22" fill="url(#Yy)"/><text x="944.5" y="865.5">Bat1p</text></g>
<g id="b_Bat2p_i" class="n"><rect x="970" y="850" width="51" height="22" fill="url(#Yy)"/><text x="995.5" y="865.5">Bat2p</text></g>
</g>

<g id="nodes-c">
<g id="c_Ade4p" class="n"><rect x="255" y="734" width="52" height="23" fill="url(#Rr)"/><text x="281" y="750">Ade4p</text></g>
<g id="c_Ade57p_1" class="n"><rect x="255" y="766" width="64" height="22" fill="url(#Ry)"/><text x="287" y="781.5">Ade5,7p</text></g>
<g id="c_Ade8p" class="n"><rect x="256" y="800" width="51" height="23" fill="#fff"/><text x="281.5" y="816">Ade8p</text></g>
<g id="c_Ade6p" class="n"><rect x="256" y="835" width="52" height="22" fill="url(#Ry)"/><text x="282" y="850.5">Ade6p</text></g>
<g id="c_Ade57p_2" class="n"><rect x="256" y="869" width="64" height="23" fill="url(#Ry)"/><text x="288" y="885">Ade5,7p</text></g>
<g id="c_Ade2p" class="n"><rect x="256" y="903" width="52" height="23" fill="url(#Ry)"/><text x="282" y="919">Ade2p</text></g>
<g id="c_Ade1p" class="n"><rect x="257" y="937" width="51" height="23" fill="#fff"/><text x="282.5" y="953">Ade1p</text></g>
<g id="c_Ade13p_1" class="n"><rect x="257" y="969" width="60" height="23" fill="url(#Ry)"/><text x="287" y="985">Ade13p</text></g>
<g id="c_Ade16p" class="n"><rect x="257" y="1002" width="60" height="22" fill="#fff"/><text x="287" y="1017.5">Ade16p</text></g>
<g id="c_Ade17p" class="n"><rect x="317" y="1002" width="58" height="22" fill="url(#Ry)"/><text x="346" y="1017.5">Ade17p</text></g>
<g id="c_Ade12p" class="n"><rect x="176" y="1046" width="59" height="22" fill="#fff"/><text x="205.5" y="1061.5">Ade12p</text></g>
<g id="c_Imd2p" class="n"><rect x="266" y="1046" width="51" height="22" fill="url(#Rr)"/><text x="291.5" y="1061.5">Imd2p</text></g>
<g id="c_Imd3p" class="n"><rect x="317" y="1046" width="51" height="22" fill="#fff"/><text x="342.5" y="1061.5">Imd3p</text></g>
<g id="c_Imd4p" class="n"><rect x="368" y="1046" width="51" height="22" fill="#fff"/><text x="393.5" y="1061.5">Imd4p</text></g>
<g id="c_Ade13p_2" class="n"><rect x="157" y="1077" width="60" height="21" fill="url(#Ry)"/><text x="187" y="1092">Ade13p</text></g>
<g id="c_Adk1p" class="n"><rect x="145" y="1106" width="51" height="22" fill="url(#Yy)"/><text x="170.5" y="1121.5">Adk1p</text></g>
<g id="c_Rnr1p_1" class="n"><rect x="75" y="1133" width="51" height="21" fill="#fff"/><text x="100.5" y="1148">Rnr1p</text></g>
<g id="c_Rnr2p_1" class="n"><rect x="126" y="1133" width="51" height="21" fill="#fff"/><text x="151.5" y="1148">Rnr2p</text></g>
<g id="c_Rnr3p_1" class="n"><rect x="52" y="1154" width="51" height="23" fill="#fff"/><text x="77.5" y="1170">Rnr3p</text></g>
<g id="c_Rnr4p_1" class="n"><rect x="103" y="1154" width="50" height="23" fill="url(#Ry)"/><text x="128" y="1170">Rnr4p</text></g>
<g id="c_Gua1p" class="n"><rect x="288" y="1097" width="52" height="21" fill="url(#Yy)"/><text x="314" y="1112">Gua1p</text></g>
<g id="c_Guk1p" class="n"><rect x="272" y="1142" width="51" height="22" fill="url(#Gy)"/><text x="297.5" y="1157.5">Guk1p</text></g>
<g id="c_Ynk1p" class="n"><rect x="200" y="1164" width="52" height="22" fill="url(#Gy)"/><text x="226" y="1179.5">Ynk1p</text></g>
<g id="c_Rnr1p_2" class="n"><rect x="286" y="1170" width="51" height="22" fill="#fff"/><text x="311.5" y="1185.5">Rnr1p</text></g>
<g id="c_Rnr2p_2" class="n"><rect x="337" y="1170" width="51" height="22" fill="#fff"/><text x="362.5" y="1185.5">Rnr2p</text></g>
<g id="c_Rnr3p_2" class="n"><rect x="315" y="1192" width="51" height="23" fill="#fff"/><text x="340.5" y="1208">Rnr3p</text></g>
<g id="c_Rnr4p_2" class="n"><rect x="366" y="1192" width="51" height="23" fill="url(#Ry)"/><text x="391.5" y="1208">Rnr4p</text></g>
</g>

<g id="legend">
<text x="680" y="1034" style="font-family:'DejaVu Sans',Verdana,sans-serif;font-weight:bold;font-size:22px;fill:#111">Legend</text>
<g class="n"><rect x="682" y="1047" width="106" height="45" fill="url(#Gr)"/></g>
<text class="lg" x="688" y="1063">Protein</text>
<text class="lg" x="780" y="1083" style="text-anchor:end">mRNA</text>
<text class="lg" x="793" y="1073">Expression</text>
<g class="n"><rect x="682" y="1098" width="52" height="24" fill="url(#Rr)"/><rect x="682" y="1125" width="52" height="23" fill="url(#Yy)"/><rect x="682" y="1152" width="52" height="22" fill="url(#Gg)"/><rect x="682" y="1178" width="52" height="24" fill="#fff"/></g>
<text class="lg" x="738" y="1116">Up regulated in anaerobiosis</text>
<text class="lg" x="738" y="1142">No difference in expression</text>
<text class="lg" x="738" y="1168">Down regulated in anaerobiosis</text>
<text class="lg" x="738" y="1194">No protein ratio detected</text>
</g>
</svg>
